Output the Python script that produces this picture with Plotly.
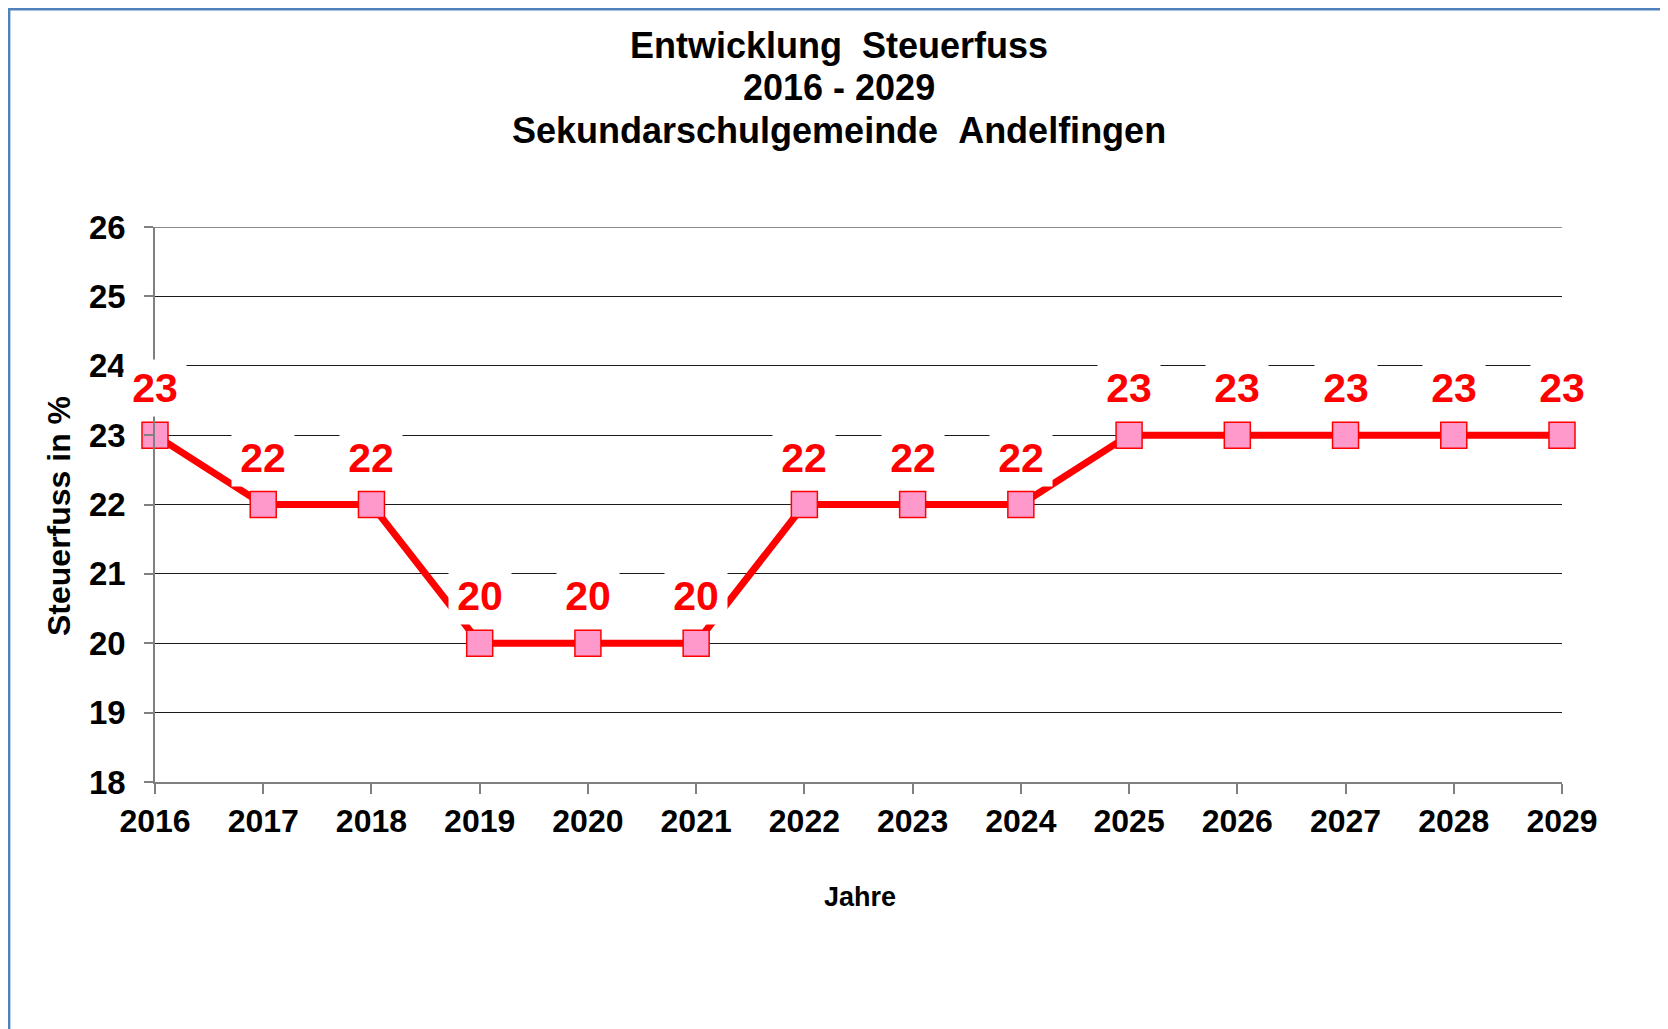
import plotly.graph_objects as go

# data
years = [2016, 2017, 2018, 2019, 2020, 2021, 2022, 2023, 2024, 2025, 2026, 2027, 2028, 2029]
steuerfuss = [23, 22, 22, 20, 20, 20, 22, 22, 22, 23, 23, 23, 23, 23]
y_ticks = [18, 19, 20, 21, 22, 23, 24, 25, 26]

title_lines = ["Entwicklung\u00a0\u00a0Steuerfuss", "2016 - 2029", "Sekundarschulgemeinde\u00a0\u00a0Andelfingen"]

# page is 1668x1029, the html body adds 8px margin
OFF = 8
W, H = 1668 - OFF, 1029 - OFF
# plot area in page pixels: x 155..1562, y 227..782
L, T = 155 - OFF, 227 - OFF
R, B = W - (1562 - OFF), H - (782 - OFF)
FONT = "Liberation Sans, Arial, sans-serif"


def px(x, y):
    # page pixels -> paper coords
    fx, fy = x - OFF, y - OFF
    return (fx - L) / (W - L - R), (H - B - fy) / (H - T - B)


fig = go.Figure()
fig.add_trace(go.Scatter(
    x=years, y=steuerfuss,
    mode="lines+markers",
    line=dict(color="#FF0000", width=7),
    marker=dict(symbol="square", size=26, color="#FF99CC",
                line=dict(color="#FF0000", width=1.5)),
    cliponaxis=False,
    hoverinfo="x+y",
))

# value labels with white boxes
for xv, yv in zip(years, steuerfuss):
    fig.add_annotation(
        x=xv, y=yv, text=str(yv), showarrow=False, yshift=47,
        font=dict(family=FONT, size=41, color="#FF0000", weight="bold"),
        bgcolor="white", width=60, height=54,
    )

# title lines
for i, line in enumerate(title_lines):
    tx, ty = px(839, 45 + 42.5 * i)
    fig.add_annotation(
        x=tx, y=ty, xref="paper", yref="paper", text=line, showarrow=False,
        xanchor="center", yanchor="middle",
        font=dict(family=FONT, size=36, color="black", weight="bold"),
    )

# axis titles
ax, ay = px(59, 516)
fig.add_annotation(x=ax, y=ay, xref="paper", yref="paper", text="Steuerfuss in %",
                   showarrow=False, textangle=-90, xanchor="center", yanchor="middle",
                   font=dict(family=FONT, size=32, color="black", weight="bold"))
jx, jy = px(860, 897)
fig.add_annotation(x=jx, y=jy, xref="paper", yref="paper", text="Jahre",
                   showarrow=False, xanchor="center", yanchor="middle",
                   font=dict(family=FONT, size=27, color="black", weight="bold"))

# top gridline (plotly drops it at the range edge)
fig.add_shape(type="line", xref="paper", yref="y", x0=0, x1=1, y0=y_ticks[-1], y1=y_ticks[-1],
              line=dict(color="#1a1a1a", width=1), layer="below")

# outer blue frame (only top/left visible)
fig.add_shape(type="rect", xref="paper", yref="paper",
              x0=-L / (W - L - R) + 0.0008, y0=1 + (T - 1.2) / (H - T - B),
              x1=1 + (R + 20) / (W - L - R), y1=-(B + 20) / (H - T - B),
              line=dict(color="#4F81BD", width=2.5), fillcolor="rgba(0,0,0,0)", layer="below")

fig.update_xaxes(
    range=[years[0], years[-1]], tickvals=years, ticktext=[str(v) for v in years],
    showgrid=False, zeroline=False, showline=True, linecolor="#808080", linewidth=2,
    ticks="outside", ticklen=10, tickwidth=1.5, tickcolor="#808080",
    tickfont=dict(family=FONT, size=32, color="black", weight="bold"),
)
fig.update_yaxes(
    range=[y_ticks[0], y_ticks[-1]], tickvals=y_ticks,
    showgrid=True, gridcolor="#1a1a1a", gridwidth=1, zeroline=False,
    showline=True, linecolor="#808080", linewidth=1.5,
    ticks="outside", ticklen=9, tickwidth=1.5, tickcolor="#808080",
    ticklabelstandoff=12,
    tickfont=dict(family=FONT, size=33, color="black", weight="bold"),
)
fig.update_layout(
    width=W, height=H, margin=dict(l=L, r=R, t=T, b=B, autoexpand=False),
    plot_bgcolor="white", paper_bgcolor="white", showlegend=False,
)

fig.write_html("out.html")
